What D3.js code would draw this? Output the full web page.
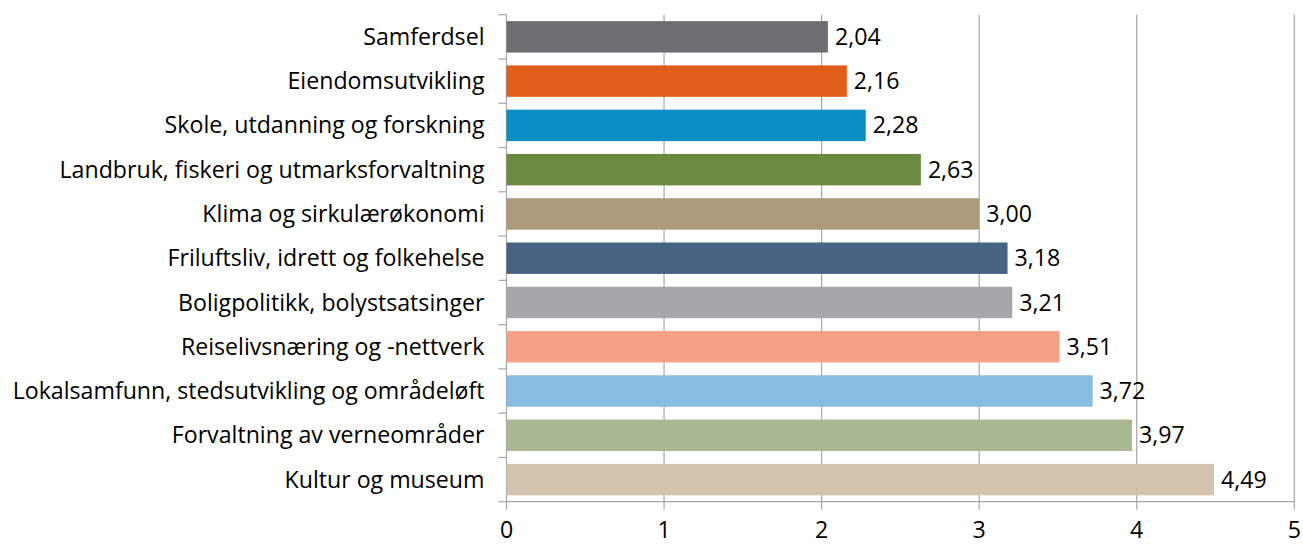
<!DOCTYPE html>
<html><head><meta charset="utf-8">
<script src="https://cdn.jsdelivr.net/npm/d3@7"></script>
<style>body{margin:0;background:#fff}svg{display:block}</style>
</head><body>
<svg id="c" width="1303" height="545"></svg>
<script>
const categories = ["Samferdsel","Eiendomsutvikling","Skole, utdanning og forskning","Landbruk, fiskeri og utmarksforvaltning","Klima og sirkulærøkonomi","Friluftsliv, idrett og folkehelse","Boligpolitikk, bolystsatsinger","Reiselivsnæring og -nettverk","Lokalsamfunn, stedsutvikling og områdeløft","Forvaltning av verneområder","Kultur og museum"];
const values = [2.04,2.16,2.28,2.63,3.00,3.18,3.21,3.51,3.72,3.97,4.49];
const colors = ["#6d6e71","#e05e1a","#0a8fc4","#6b8a3f","#ac9a7a","#476384","#a6a7a9","#f7a088","#86bde0","#a8b991","#d3c4b0"];
const xTicks = [0,1,2,3,4,5];

const svg = d3.select("#c");
const L = 506.5, R = 1294.3, T = 14.7, B = 501.7;
const font = "'Open Sans', sans-serif";
const x = d3.scaleLinear().domain([0,5]).range([L,R]);
const y = d3.scaleBand().domain(categories).range([T,B]).paddingInner(0.29).paddingOuter(0.145);
const yb = d3.scaleBand().domain(categories).range([T,B]);
const grid = "#a6a6a6";

const probe = svg.append("text").attr("font-family",font).attr("font-size",20).text(categories[8]);
const w20 = probe.node().getComputedTextLength();
probe.remove();
const fs = Math.min(24, 20 * 472 / w20);

svg.append("g").selectAll("line").data(xTicks.slice(1)).join("line")
  .attr("x1",d=>x(d)).attr("x2",d=>x(d)).attr("y1",T).attr("y2",B+8)
  .attr("stroke",grid).attr("stroke-width",1.2);
svg.append("line").attr("x1",L).attr("x2",L).attr("y1",T).attr("y2",B+8).attr("stroke",grid).attr("stroke-width",1.2);
svg.append("line").attr("x1",L).attr("x2",R).attr("y1",B).attr("y2",B).attr("stroke",grid).attr("stroke-width",1.2);
const bounds = categories.map(c=>yb(c)).concat([B]);
svg.append("g").selectAll("line").data(bounds).join("line")
  .attr("x1",L-8).attr("x2",L).attr("y1",d=>d).attr("y2",d=>d)
  .attr("stroke",grid).attr("stroke-width",1.2);

svg.append("g").selectAll("rect").data(values).join("rect")
  .attr("x",L).attr("y",(d,i)=>y(categories[i]))
  .attr("width",d=>x(d)-L).attr("height",y.bandwidth())
  .attr("fill",(d,i)=>colors[i]);

svg.append("g").selectAll("text").data(values).join("text")
  .attr("x",d=>x(d)+7).attr("y",(d,i)=>y(categories[i])+y.bandwidth()/2)
  .attr("dy","0.35em").attr("font-family",font).attr("font-size",fs).attr("fill","#000")
  .text(d=>d.toFixed(2).replace(".",","));

svg.append("g").selectAll("text").data(categories).join("text")
  .attr("x",L-22).attr("y",d=>y(d)+y.bandwidth()/2)
  .attr("dy","0.35em").attr("text-anchor","end").attr("font-family",font).attr("font-size",fs).attr("fill","#000")
  .text(d=>d);

svg.append("g").selectAll("text").data(xTicks).join("text")
  .attr("x",d=>x(d)).attr("y",538).attr("text-anchor","middle")
  .attr("font-family",font).attr("font-size",fs).attr("fill","#000").text(d=>d);
</script>
</body></html>
